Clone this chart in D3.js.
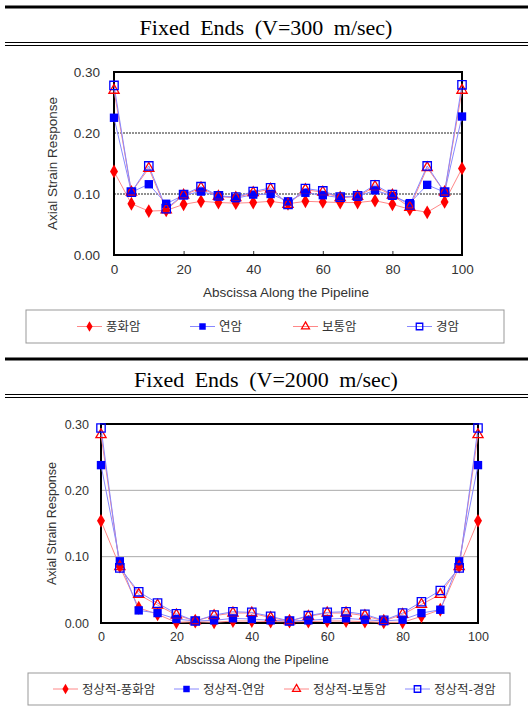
<!DOCTYPE html>
<html>
<head>
<meta charset="utf-8">
<script src="https://cdn.jsdelivr.net/npm/d3@7"></script>
<style>
	body { margin: 0; background: #fff; }
	svg text { font-family: "Liberation Sans", Arial, sans-serif; }
	.title { font-family: "Liberation Serif", "Times New Roman", serif !important; }
	.leg text { font-family: "Noto Sans CJK KR", sans-serif; }
</style>
</head>
<body>
<svg id="chart" width="528" height="713"></svg>
<script>
var xPos = [0, 5, 10, 15, 20, 25, 30, 35, 40, 45, 50, 55, 60, 65, 70, 75, 80, 85, 90, 95, 100];
var yTicks = [0, 0.1, 0.2, 0.3];
var xTicks = [0, 20, 40, 60, 80, 100];

// V=300
var weathered300 = [0.137, 0.084, 0.072, 0.073, 0.083, 0.088, 0.086, 0.085, 0.086, 0.088, 0.084, 0.088, 0.087, 0.086, 0.086, 0.089, 0.083, 0.075, 0.070, 0.087, 0.142];
var soft300      = [0.225, 0.103, 0.116, 0.084, 0.098, 0.104, 0.097, 0.093, 0.099, 0.100, 0.088, 0.102, 0.098, 0.094, 0.096, 0.106, 0.097, 0.085, 0.115, 0.103, 0.227];
var normal300    = [0.270, 0.103, 0.142, 0.074, 0.098, 0.110, 0.096, 0.094, 0.102, 0.108, 0.083, 0.107, 0.103, 0.094, 0.096, 0.112, 0.098, 0.078, 0.143, 0.103, 0.270];
var hard300      = [0.278, 0.103, 0.146, 0.076, 0.099, 0.112, 0.097, 0.095, 0.104, 0.110, 0.083, 0.109, 0.105, 0.095, 0.097, 0.115, 0.099, 0.082, 0.146, 0.103, 0.279];

// V=2000
var weathered2000 = [0.154, 0.085, 0.023, 0.013, 0.001, 0.002, 0.001, 0.003, 0.003, 0.002, 0.002, 0.002, 0.003, 0.003, 0.002, 0.001, 0.001, 0.010, 0.020, 0.085, 0.154];
var soft2000      = [0.238, 0.093, 0.019, 0.015, 0.006, 0.003, 0.004, 0.007, 0.006, 0.004, 0.003, 0.004, 0.006, 0.007, 0.005, 0.003, 0.005, 0.015, 0.020, 0.093, 0.238];
var normal2000    = [0.284, 0.085, 0.043, 0.027, 0.012, 0.003, 0.011, 0.015, 0.015, 0.008, 0.003, 0.010, 0.015, 0.015, 0.011, 0.003, 0.013, 0.028, 0.043, 0.085, 0.284];
var hard2000      = [0.294, 0.083, 0.047, 0.030, 0.014, 0.003, 0.012, 0.017, 0.016, 0.010, 0.003, 0.011, 0.016, 0.017, 0.013, 0.004, 0.015, 0.032, 0.049, 0.083, 0.294];

var names300  = ['풍화암', '연암', '보통암', '경암'];
var names2000 = ['정상적-풍화암', '정상적-연암', '정상적-보통암', '정상적-경암'];

var seriesStyle = [
	{sym: d3.symbolDiamond, size: 55, fill: '#ff0000', stroke: 'none', line: '#ff8888'},
	{sym: d3.symbolSquare,  size: 70, fill: '#0000ff', stroke: 'none', line: '#8888ff'},
	{sym: d3.symbolTriangle, size: 45, fill: 'none', stroke: '#ff0000', line: '#ff8888'},
	{sym: d3.symbolSquare,  size: 70, fill: 'none', stroke: '#0000ff', line: '#8888ff'}
];

var svg = d3.select('#chart');

function drawHeader(y0, title) {
	svg.append('line').attr('x1', 5).attr('x2', 528).attr('y1', y0).attr('y2', y0)
		.attr('stroke', '#000').attr('stroke-width', 3);
	svg.append('text').attr('class', 'title')
		.attr('x', 266).attr('y', y0 + 28)
		.attr('text-anchor', 'middle')
		.attr('font-size', 22).attr('word-spacing', 5)
		.text(title);
	[y0 + 35.5, y0 + 38.5].forEach(function(y) {
		svg.append('line').attr('x1', 5).attr('x2', 528).attr('y1', y).attr('y2', y)
			.attr('stroke', '#000').attr('stroke-width', 1.2);
	});
}

function drawPanel(cfg) {
	var x = d3.scaleLinear().domain([0, 100]).range([cfg.left, cfg.right]);
	var y = d3.scaleLinear().domain([0, 0.3]).range([cfg.bottom, cfg.top]);
	var g = svg.append('g');

	// gridlines
	g.selectAll('line.grid').data([0.1, 0.2]).enter().append('line')
		.attr('x1', cfg.left).attr('x2', cfg.right)
		.attr('y1', function(d) { return y(d); }).attr('y2', function(d) { return y(d); })
		.attr('stroke', cfg.gridColor).attr('stroke-width', 1)
		.attr('stroke-dasharray', cfg.gridDash);

	// axes (labels only, frame drawn below)
	var yAxis = d3.axisLeft(y).tickValues(yTicks).tickFormat(d3.format('.2f')).tickSize(0).tickPadding(cfg.yPad);
	var xAxis = d3.axisBottom(x).tickValues(xTicks).tickFormat(d3.format('d')).tickSizeInner(-4).tickSizeOuter(0).tickPadding(9);
	var ya = g.append('g').attr('transform', 'translate(' + cfg.left + ',0)').call(yAxis);
	var xa = g.append('g').attr('transform', 'translate(0,' + cfg.bottom + ')').call(xAxis);
	[ya, xa].forEach(function(a) {
		a.select('.domain').remove();
		a.selectAll('text').attr('fill', '#333').attr('font-size', cfg.fs);
		a.selectAll('line').attr('stroke', '#333');
	});

	// frame
	g.append('rect').attr('x', cfg.left).attr('y', cfg.top)
		.attr('width', cfg.right - cfg.left).attr('height', cfg.bottom - cfg.top)
		.attr('fill', 'none').attr('stroke', '#000').attr('stroke-width', 2);

	// titles
	g.append('text').attr('x', cfg.xTitleX).attr('y', cfg.xTitleY)
		.attr('text-anchor', 'middle').attr('fill', '#333').attr('font-size', cfg.tfs)
		.text('Abscissa Along the Pipeline');
	g.append('text')
		.attr('transform', 'translate(' + cfg.yTitleX + ',' + ((cfg.top + cfg.bottom) / 2) + ') rotate(-90)')
		.attr('text-anchor', 'middle').attr('fill', '#333').attr('font-size', cfg.tfs)
		.text('Axial Strain Response');

	// series
	var line = d3.line()
		.x(function(d, i) { return x(xPos[i]); })
		.y(function(d) { return y(d); });
	cfg.series.forEach(function(s, k) {
		var st = seriesStyle[k];
		g.append('path').attr('d', line(s))
			.attr('fill', 'none').attr('stroke', st.line).attr('stroke-width', 1);
	});
	cfg.series.forEach(function(s, k) {
		var st = seriesStyle[k];
		g.selectAll('path.m' + k).data(s).enter().append('path')
			.attr('class', 'm' + k)
			.attr('transform', function(d, i) { return 'translate(' + x(xPos[i]) + ',' + y(d) + ')'; })
			.attr('d', d3.symbol().type(st.sym).size(st.size))
			.attr('fill', st.fill).attr('stroke', st.stroke).attr('stroke-width', 1.3);
	});

	// legend
	var lg = svg.append('g').attr('class', 'leg');
	lg.append('rect').attr('x', cfg.leg.x).attr('y', cfg.leg.y)
		.attr('width', cfg.leg.w).attr('height', cfg.leg.h)
		.attr('fill', '#fff').attr('stroke', '#999').attr('stroke-width', 1);
	var cy = cfg.leg.y + cfg.leg.h / 2;
	cfg.names.forEach(function(n, k) {
		var st = seriesStyle[k], lx = cfg.leg.items[k];
		lg.append('line').attr('x1', lx).attr('x2', lx + 25).attr('y1', cy).attr('y2', cy)
			.attr('stroke', st.line).attr('stroke-width', 1);
		lg.append('path').attr('transform', 'translate(' + (lx + 12.5) + ',' + cy + ')')
			.attr('d', d3.symbol().type(st.sym).size(st.size * 0.6))
			.attr('fill', st.fill).attr('stroke', st.stroke).attr('stroke-width', 1.3);
		lg.append('text').attr('x', lx + 29).attr('y', cy + 4.5)
			.attr('fill', '#333').attr('font-size', 12.5).text(n);
	});
}

drawHeader(7, 'Fixed Ends (V=300 m/sec)');
drawPanel({
	left: 114, right: 462, top: 72, bottom: 255,
	gridColor: '#222', gridDash: '2,1', yPad: 14, fs: 13.5, tfs: 13.5,
	xTitleX: 286, xTitleY: 297, yTitleX: 57,
	series: [weathered300, soft300, normal300, hard300],
	names: names300,
	leg: {x: 26, y: 310, w: 478, h: 33, items: [77, 190, 293, 407]}
});

drawHeader(359, 'Fixed Ends (V=2000 m/sec)');
drawPanel({
	left: 101, right: 478, top: 424, bottom: 623,
	gridColor: '#aaa', gridDash: null, yPad: 12, fs: 12.5, tfs: 12.5,
	xTitleX: 252, xTitleY: 664, yTitleX: 56,
	series: [weathered2000, soft2000, normal2000, hard2000],
	names: names2000,
	leg: {x: 28, y: 673, w: 482, h: 32, items: [53, 174, 284, 405]}
});
</script>
</body>
</html>
